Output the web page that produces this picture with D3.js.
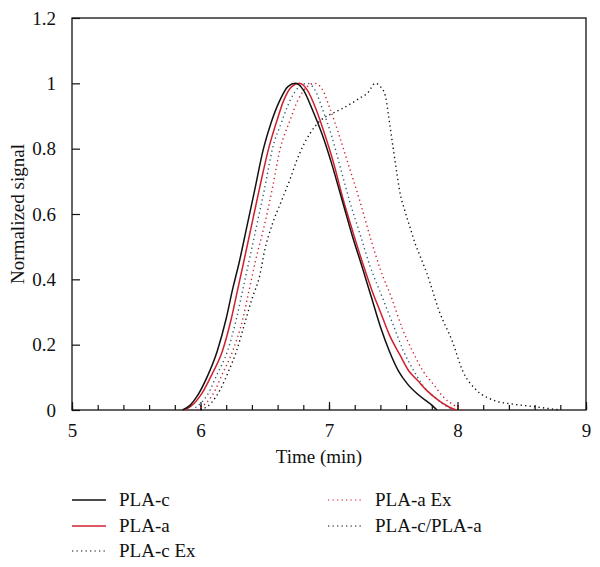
<!DOCTYPE html>
<html><head><meta charset="utf-8">
<script src="https://cdn.jsdelivr.net/npm/d3@7"></script>
<style>body{margin:0;background:#fff}svg{display:block}text{font-family:"Liberation Serif","DejaVu Serif",serif;fill:#111}</style>
</head><body>
<script>
const seriesNames = ["PLA-c","PLA-a","PLA-c Ex","PLA-a Ex","PLA-c/PLA-a"];
const plaC_t = [5.86,5.92,5.97,6.05,6.13,6.20,6.25,6.30,6.36,6.42,6.49,6.55,6.62,6.68,6.74,6.80,6.87,6.95,7.02,7.10,7.18,7.26,7.33,7.40,7.47,7.54,7.61,7.70,7.80,7.84];
const plaC_v = [0,0.015,0.04,0.10,0.18,0.28,0.37,0.45,0.56,0.67,0.80,0.88,0.95,0.99,1.0,0.98,0.92,0.84,0.755,0.645,0.535,0.435,0.345,0.255,0.18,0.12,0.08,0.045,0.015,0];
const plaA_t = [5.88,5.95,6.01,6.09,6.17,6.24,6.29,6.34,6.40,6.46,6.53,6.59,6.65,6.71,6.77,6.83,6.90,6.97,7.04,7.11,7.19,7.27,7.34,7.40,7.47,7.55,7.62,7.69,7.76,7.85,7.93,7.99];
const plaA_v = [0,0.02,0.05,0.11,0.18,0.28,0.37,0.46,0.57,0.68,0.80,0.88,0.95,0.99,1.0,0.98,0.92,0.84,0.75,0.645,0.54,0.44,0.36,0.30,0.23,0.17,0.12,0.09,0.06,0.03,0.01,0];
const plaCEx_t = [5.93,6.00,6.06,6.13,6.21,6.28,6.33,6.38,6.44,6.50,6.56,6.63,6.70,6.77,6.83,6.89,6.95,7.02,7.09,7.16,7.24,7.32,7.42,7.50,7.58,7.66,7.74,7.82,7.90,7.97];
const plaCEx_v = [0,0.02,0.05,0.11,0.18,0.28,0.37,0.46,0.57,0.68,0.80,0.88,0.95,0.99,1.0,0.98,0.92,0.84,0.74,0.64,0.54,0.44,0.34,0.26,0.18,0.12,0.07,0.04,0.015,0];
const plaAEx_t = [5.97,6.04,6.10,6.17,6.25,6.33,6.38,6.43,6.50,6.56,6.62,6.69,6.76,6.83,6.89,6.95,7.01,7.08,7.16,7.24,7.32,7.40,7.49,7.57,7.65,7.73,7.81,7.89,7.97,8.04];
const plaAEx_v = [0,0.02,0.05,0.11,0.18,0.28,0.37,0.46,0.57,0.68,0.80,0.88,0.95,0.99,1.0,0.98,0.92,0.84,0.74,0.64,0.53,0.43,0.34,0.25,0.18,0.12,0.08,0.04,0.015,0];
const blend_t = [6.00,6.08,6.15,6.22,6.28,6.34,6.40,6.46,6.50,6.56,6.63,6.70,6.75,6.80,6.85,6.93,7.01,7.09,7.18,7.24,7.30,7.36,7.40,7.44,7.46,7.48,7.50,7.53,7.55,7.59,7.63,7.67,7.71,7.76,7.86,7.96,8.04,8.15,8.28,8.43,8.56,8.70,8.80];
const blend_v = [0,0.02,0.06,0.12,0.18,0.26,0.34,0.41,0.49,0.57,0.64,0.71,0.765,0.81,0.845,0.885,0.905,0.92,0.94,0.955,0.97,1.0,0.99,0.96,0.91,0.855,0.80,0.72,0.67,0.61,0.56,0.51,0.47,0.42,0.30,0.21,0.12,0.06,0.03,0.018,0.012,0.005,0];
const xTicks = [5,6,7,8,9];
const yTicks = [0,0.2,0.4,0.6,0.8,1,1.2];
const yTickLabels = ["0","0.2","0.4","0.6","0.8","1","1.2"];

const series = [
  {name:seriesNames[0], t:plaC_t, v:plaC_v, color:"#111", dash:null},
  {name:seriesNames[1], t:plaA_t, v:plaA_v, color:"#d0202e", dash:null},
  {name:seriesNames[2], t:plaCEx_t, v:plaCEx_v, color:"#2e5f72", dash:"1.3 3.2"},
  {name:seriesNames[3], t:plaAEx_t, v:plaAEx_v, color:"#d0202e", dash:"1.3 3.2"},
  {name:seriesNames[4], t:blend_t, v:blend_v, color:"#111", dash:"1.3 3.2"}
];

const W=600,H=567, L=72,R=586,T=18,B=410;
const svg=d3.select("body").append("svg").attr("width",W).attr("height",H);
const x=d3.scaleLinear().domain([5,9]).range([L,R]);
const y=d3.scaleLinear().domain([0,1.2]).range([B,T]);

svg.append("rect").attr("x",L).attr("y",T).attr("width",R-L).attr("height",B-T)
  .attr("fill","none").attr("stroke","#111").attr("stroke-width",1.3);

const xa=svg.append("g").attr("transform",`translate(0,${B})`)
  .call(d3.axisBottom(x).tickValues(d3.range(5,9.001,0.2)).tickSize(-5).tickFormat(""));
xa.select(".domain").remove();
xa.selectAll("line").attr("stroke","#111").attr("stroke-width",1.2);
const xa2=svg.append("g").attr("transform",`translate(0,${B})`)
  .call(d3.axisBottom(x).tickValues(xTicks).tickSize(-8).tickPadding(14).tickFormat(d3.format("d")));
xa2.select(".domain").remove();
xa2.selectAll("line").attr("stroke","#111").attr("stroke-width",1.2);
xa2.selectAll("text").attr("font-size",19).attr("fill","#111").attr("font-family","Liberation Serif");

const ya=svg.append("g").attr("transform",`translate(${L},0)`)
  .call(d3.axisLeft(y).tickValues(yTicks).tickSize(-8).tickPadding(16).tickFormat((d,i)=>yTickLabels[i]));
ya.select(".domain").remove();
ya.selectAll("line").attr("stroke","#111").attr("stroke-width",1.2);
ya.selectAll("text").attr("font-size",19).attr("fill","#111").attr("font-family","Liberation Serif");

svg.append("text").attr("x",(L+R)/2-10).attr("y",463).attr("text-anchor","middle").attr("font-size",19).text("Time (min)");
svg.append("text").attr("transform",`translate(24,${(T+B)/2}) rotate(-90)`).attr("text-anchor","middle").attr("font-size",19).text("Normalized signal");

const line=d3.line().x(d=>x(d[0])).y(d=>y(d[1])).curve(d3.curveMonotoneX);
[4,3,2,1,0].forEach(i=>{
  const s=series[i];
  const pts=s.t.map((t,k)=>[t,s.v[k]]);
  svg.append("path").attr("d",line(pts)).attr("fill","none").attr("stroke",s.color)
    .attr("stroke-width",s.dash?1.4:1.5).attr("stroke-dasharray",s.dash);
});

const legPos=[[72,500],[72,526],[72,551],[328,500],[328,526]];
series.forEach((s,i)=>{
  const [lx,ly]=legPos[i];
  svg.append("line").attr("x1",lx).attr("x2",lx+34).attr("y1",ly).attr("y2",ly)
    .attr("stroke",i===2?"#111":s.color).attr("stroke-width",s.dash?1.2:1.5).attr("stroke-dasharray",s.dash);
  svg.append("text").attr("x",lx+47).attr("y",ly+6).attr("font-size",19).text(s.name);
});
</script>
</body></html>
